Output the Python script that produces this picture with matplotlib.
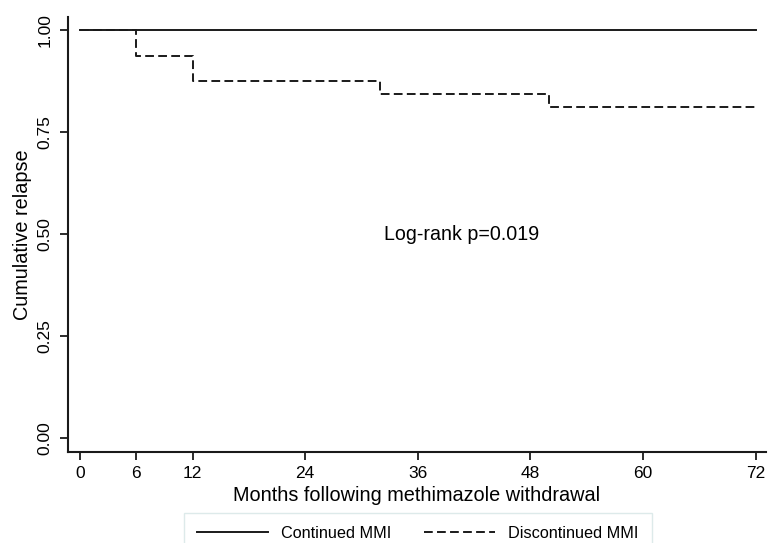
import matplotlib
matplotlib.use("Agg")
import matplotlib.pyplot as plt

plt.rcParams['font.family'] = ['Liberation Sans', 'DejaVu Sans']

# Data
cont_t = [0, 72]
cont_s = [1.0, 1.0]
disc_t = [0, 6, 12, 32, 50, 72]
disc_s = [1.0, 0.9375, 0.875, 0.84375, 0.8125, 0.8125]
xticks = [0, 6, 12, 24, 36, 48, 60, 72]
yticks = [0.00, 0.25, 0.50, 0.75, 1.00]
ytick_labels = ["0.00", "0.25", "0.50", "0.75", "1.00"]

fig = plt.figure(figsize=(7.69, 5.43), dpi=100)
ax = fig.add_axes([0.0884, 0.1676, 0.9076, 0.8011])

ax.step(cont_t, cont_s, where='post', color='#1a1a1a', lw=1.4, label='Continued MMI')
ax.step(disc_t, disc_s, where='post', color='#1a1a1a', lw=1.4, linestyle=(0, (4.5, 2.2)),
        label='Discontinued MMI')

ax.set_xlim(-1.28, 73.1)
ax.set_ylim(-0.034, 1.032)
ax.set_xticks(xticks)
ax.set_yticks(yticks)
ax.set_yticklabels(ytick_labels, rotation=90, va='center')
ax.tick_params(axis='both', labelsize=12.5, width=1.3, length=6, color='#1a1a1a')
ax.tick_params(axis='y', pad=5)
ax.tick_params(axis='x', pad=4)
for s in ['top', 'right']:
    ax.spines[s].set_visible(False)
for s in ['left', 'bottom']:
    ax.spines[s].set_linewidth(1.5)
    ax.spines[s].set_color('#1a1a1a')

ax.set_xlabel('Months following methimazole withdrawal', fontsize=14.3, labelpad=4)
ax.set_ylabel('Cumulative relapse', fontsize=14.3, labelpad=4)

ax.text(40.7, 0.5, 'Log-rank p=0.019', fontsize=14.1, ha='center', va='center')

leg = fig.legend(loc='upper center', bbox_to_anchor=(0.543, 0.0552), ncol=2, fontsize=11.7,
                 frameon=True, fancybox=False, edgecolor='#d5e5e5', handlelength=4.4,
                 handletextpad=0.8, columnspacing=2.0, borderpad=0.8, borderaxespad=0)
leg.get_frame().set_linewidth(1.0)

fig.savefig('out.png', dpi=100)
